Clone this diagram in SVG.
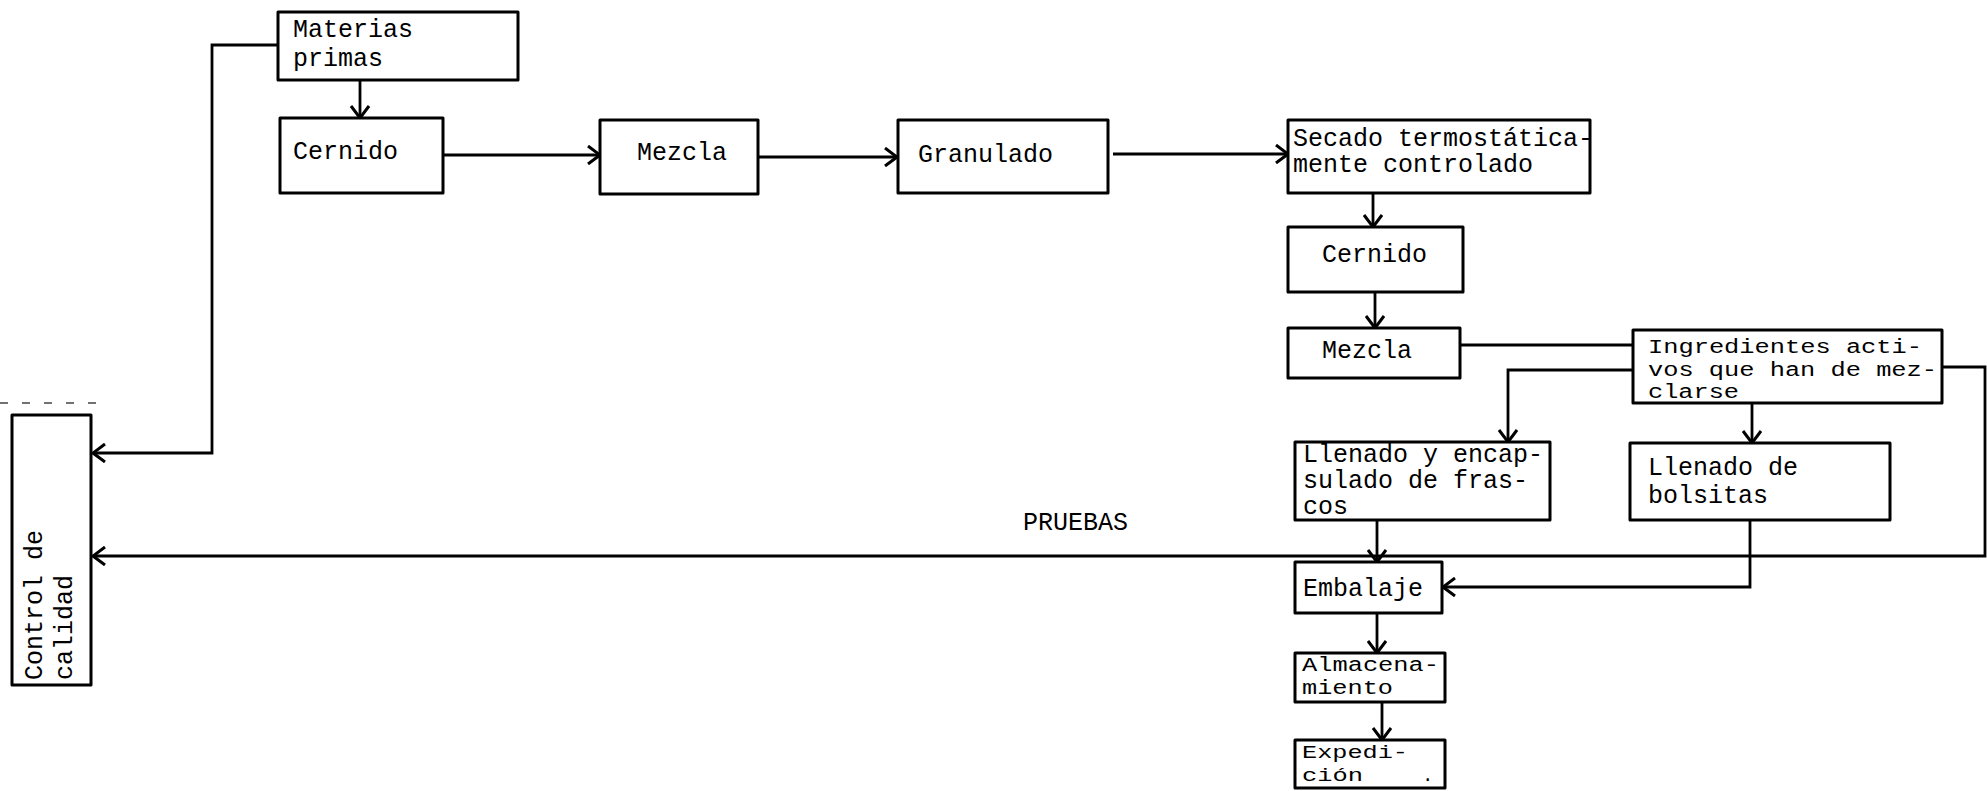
<svg xmlns="http://www.w3.org/2000/svg" width="1987" height="791" viewBox="0 0 1987 791">
<defs>
<style>
.box{fill:#fff;stroke:#000;stroke-width:3;stroke-linejoin:round}
.t{font-family:"Liberation Mono","DejaVu Sans Mono",monospace;font-size:25px;fill:#000}
.s20{font-size:20px}
.s19{font-size:19px}
.c{fill:none;stroke:#000;stroke-width:2.8;stroke-linejoin:miter}
.dash{fill:none;stroke:#444;stroke-width:1.5;stroke-dasharray:8 14}
</style>
<marker id="ah" viewBox="0 0 14 20" refX="13" refY="10" markerWidth="14" markerHeight="20" markerUnits="userSpaceOnUse" orient="auto">
<path d="M1,1 L13,10 L1,19" fill="none" stroke="#000" stroke-width="3"/>
</marker>
</defs>
<rect width="1987" height="791" fill="#fff"/>

<g id="connectors">
<path class="c" d="M278,45 H212 V453 H93" marker-end="url(#ah)"/>
<path class="c" d="M360,80 V118" marker-end="url(#ah)"/>
<path class="c" d="M443,155 H600" marker-end="url(#ah)"/>
<path class="c" d="M758,157 H897" marker-end="url(#ah)"/>
<path class="c" d="M1113,154 H1288" marker-end="url(#ah)"/>
<path class="c" d="M1373,193 V227" marker-end="url(#ah)"/>
<path class="c" d="M1375,292 V328" marker-end="url(#ah)"/>
<path class="c" d="M1460,345 H1633"/>
<path class="c" d="M1633,370 H1508 V442" marker-end="url(#ah)"/>
<path class="c" d="M1752,403 V443" marker-end="url(#ah)"/>
<path class="c" d="M1942,367 H1985 V556 H93" marker-end="url(#ah)"/>
<path class="c" d="M1377,520 V562" marker-end="url(#ah)"/>
<path class="c" d="M1750,520 V587 H1443" marker-end="url(#ah)"/>
<path class="c" d="M1377,613 V653" marker-end="url(#ah)"/>
<path class="c" d="M1382,702 V740" marker-end="url(#ah)"/>
<path class="dash" d="M0,403 H98"/>
<text class="t" x="1023" y="530">PRUEBAS</text>
</g>

<g id="materias-primas">
<rect class="box" x="278" y="12" width="240" height="68"/>
<text class="t" x="293" y="37">Materias</text>
<text class="t" x="293" y="66">primas</text>
</g>
<g id="cernido-1">
<rect class="box" x="280" y="118" width="163" height="75"/>
<text class="t" x="293" y="159">Cernido</text>
</g>
<g id="mezcla-1">
<rect class="box" x="600" y="120" width="158" height="74"/>
<text class="t" x="637" y="160">Mezcla</text>
</g>
<g id="granulado">
<rect class="box" x="898" y="120" width="210" height="73"/>
<text class="t" x="918" y="162">Granulado</text>
</g>
<g id="secado">
<rect class="box" x="1288" y="120" width="302" height="73"/>
<text class="t" x="1293" y="146">Secado termostática-</text>
<text class="t" x="1293" y="172">mente controlado</text>
</g>
<g id="cernido-2">
<rect class="box" x="1288" y="227" width="175" height="65"/>
<text class="t" x="1322" y="262">Cernido</text>
</g>
<g id="mezcla-2">
<rect class="box" x="1288" y="328" width="172" height="50"/>
<text class="t" x="1322" y="358">Mezcla</text>
</g>
<g id="ingredientes">
<rect class="box" x="1633" y="330" width="309" height="73"/>
<text class="t s20" x="1648" y="353" textLength="274" lengthAdjust="spacingAndGlyphs">Ingredientes acti-</text>
<text class="t s20" x="1648" y="376" textLength="289" lengthAdjust="spacingAndGlyphs">vos que han de mez-</text>
<text class="t s20" x="1648" y="398" textLength="91" lengthAdjust="spacingAndGlyphs">clarse</text>
</g>
<g id="llenado-encapsulado">
<rect class="box" x="1295" y="442" width="255" height="78"/>
<text class="t" x="1303" y="462">Llenado y encap-</text>
<text class="t" x="1303" y="488">sulado de fras-</text>
<text class="t" x="1303" y="514">cos</text>
</g>
<g id="llenado-bolsitas">
<rect class="box" x="1630" y="443" width="260" height="77"/>
<text class="t" x="1648" y="475">Llenado de</text>
<text class="t" x="1648" y="503">bolsitas</text>
</g>
<g id="embalaje">
<rect class="box" x="1295" y="562" width="147" height="51"/>
<text class="t" x="1303" y="596">Embalaje</text>
</g>
<g id="almacenamiento">
<rect class="box" x="1295" y="653" width="150" height="49"/>
<text class="t s20" x="1302" y="671" textLength="137" lengthAdjust="spacingAndGlyphs">Almacena-</text>
<text class="t s20" x="1302" y="694" textLength="91" lengthAdjust="spacingAndGlyphs">miento</text>
</g>
<g id="expedicion">
<rect class="box" x="1295" y="740" width="150" height="48"/>
<text class="t s19" x="1302" y="758" textLength="106" lengthAdjust="spacingAndGlyphs">Expedi-</text>
<text class="t s19" x="1302" y="781" textLength="61" lengthAdjust="spacingAndGlyphs">ción</text>
<text class="t s19" x="1422" y="781">.</text>
</g>
<g id="control-calidad">
<rect class="box" x="12" y="415" width="79" height="270"/>
<text class="t" transform="translate(42,680) rotate(-90)">Control de</text>
<text class="t" transform="translate(72,680) rotate(-90)">calidad</text>
</g>
</svg>
